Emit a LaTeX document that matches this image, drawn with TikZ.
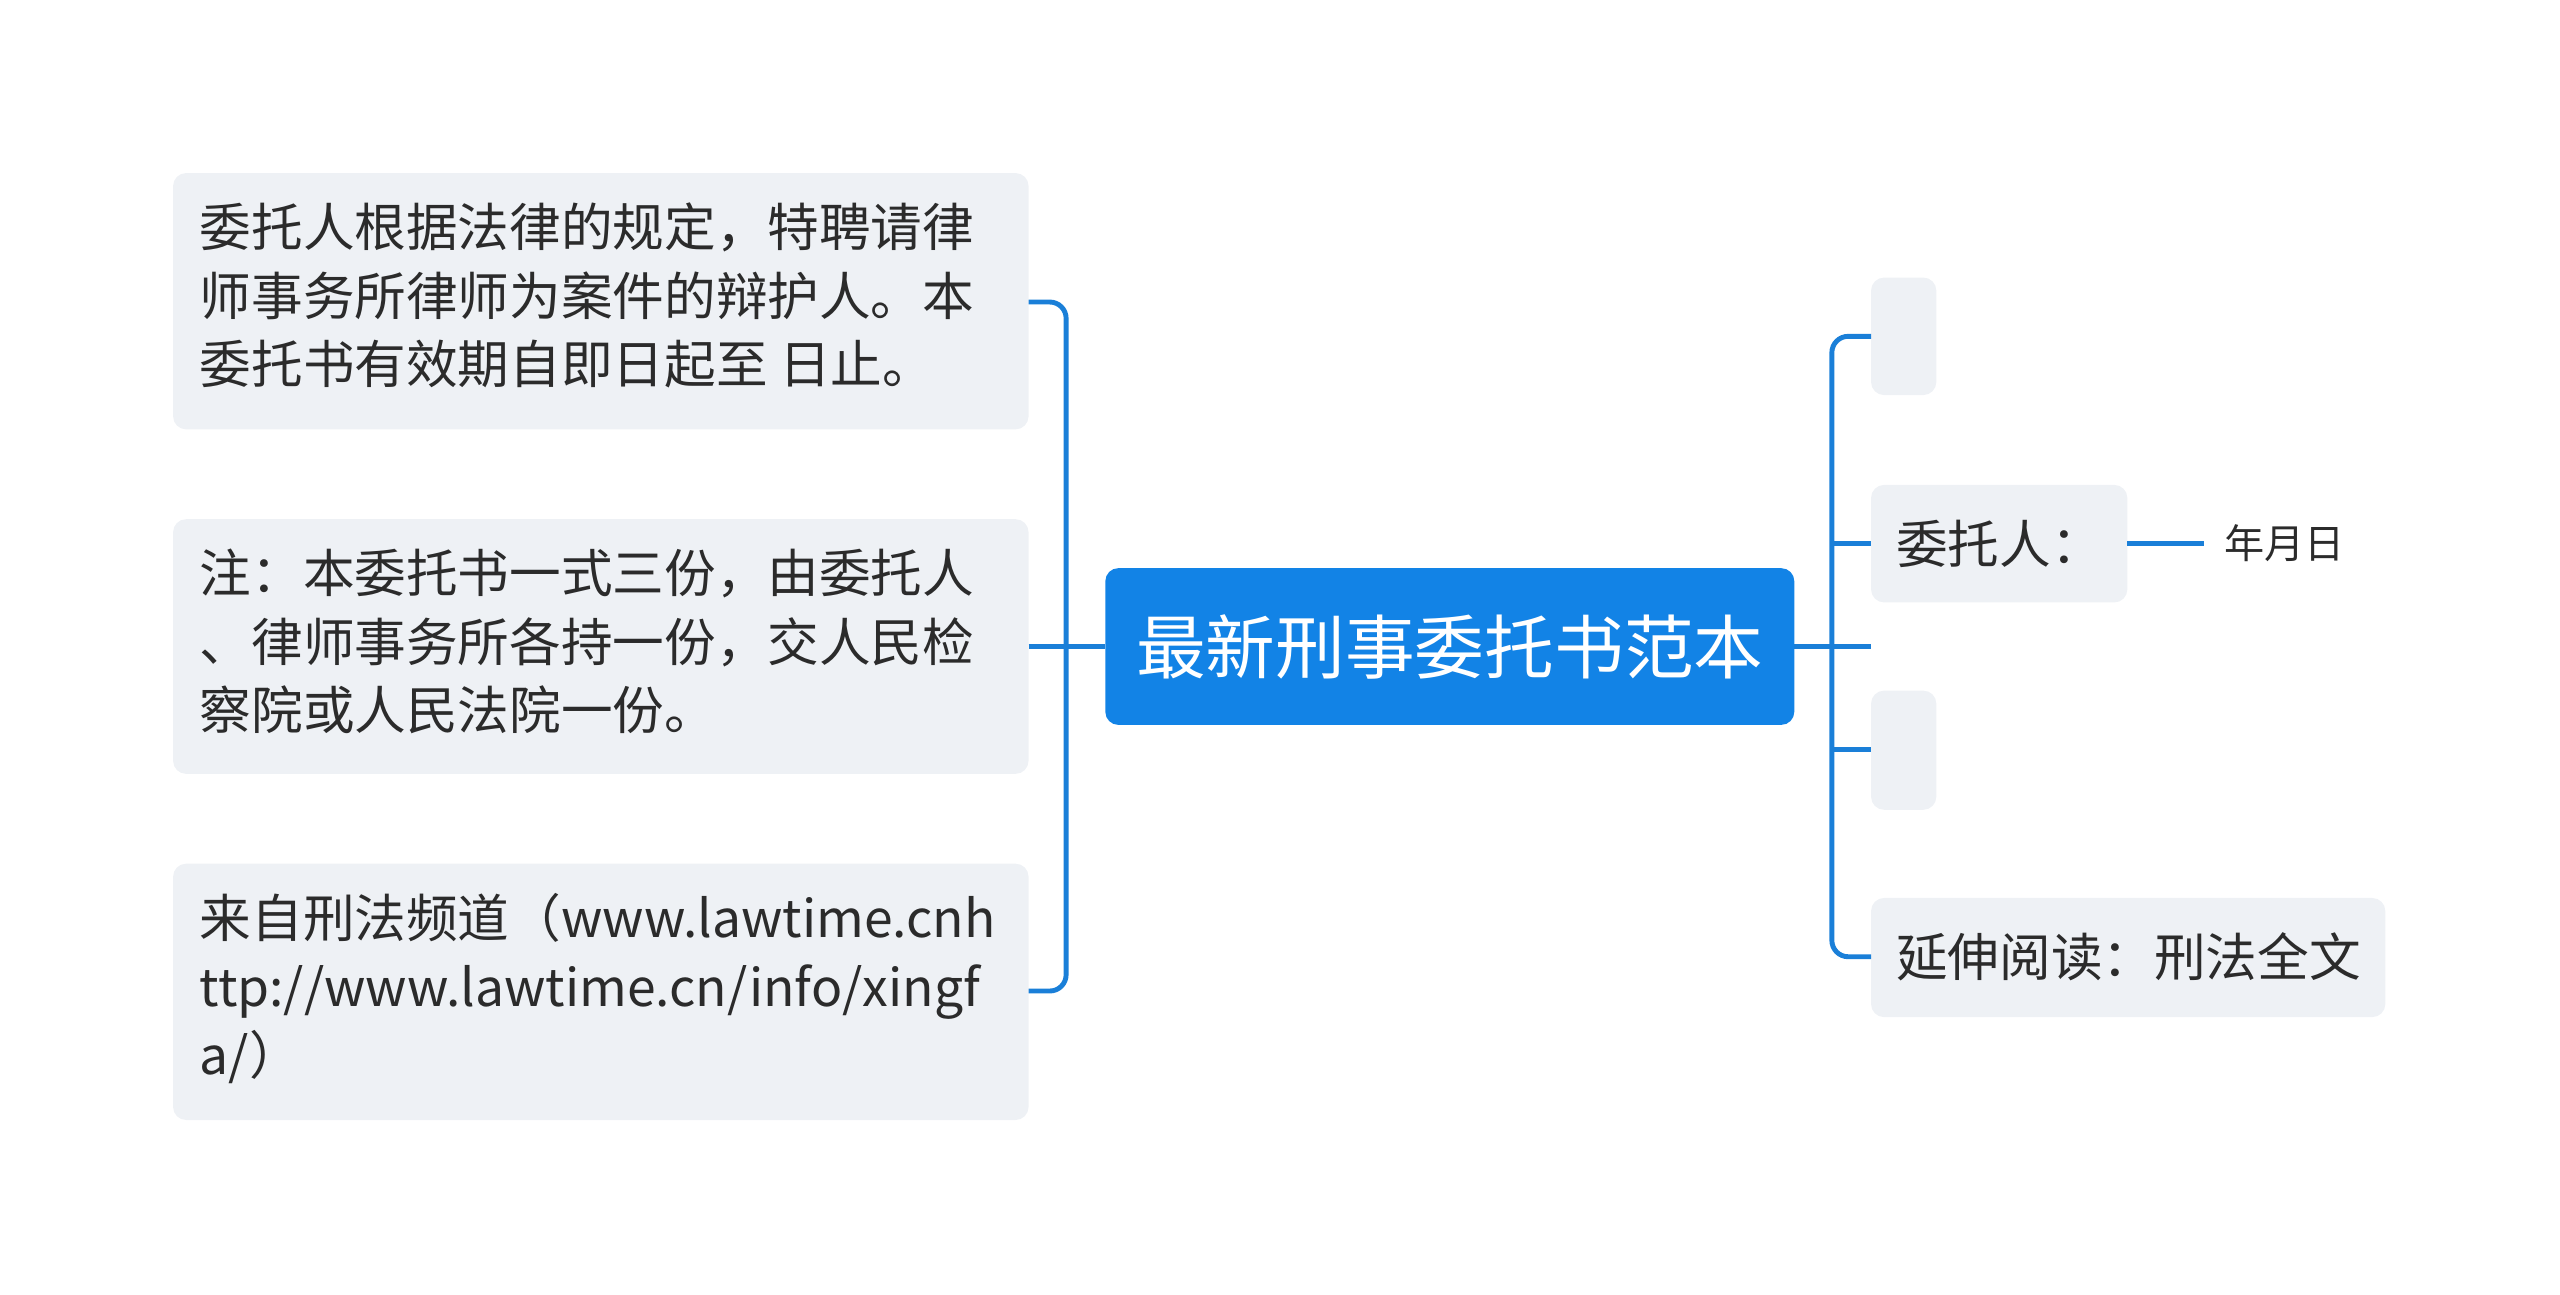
\documentclass[tikz,border=0pt]{standalone}
\usepackage{fontspec}
\setmainfont{Noto Sans CJK SC}
\begin{document}
\begin{tikzpicture}[x=0.02cm,y=-0.02cm,
  leaf/.style={fill=boxgray,rounded corners=0.16cm,draw=none},
  con/.style={draw=lineblue,line width=0.06cm,rounded corners=0.2cm},
  ltxt/.style={anchor=north west,align=left,inner sep=0pt,font=\fontsize{18}{23.9}\selectfont,text=txt}]
\definecolor{boxgray}{HTML}{EEF1F5}
\definecolor{lineblue}{HTML}{1A7FD8}
\definecolor{mainblue}{HTML}{1283E6}
\definecolor{txt}{HTML}{2B2B2B}
\useasboundingbox (0,0) rectangle (1568,793);
% left boxes
\path[leaf] (106,106) rectangle (630,263);
\path[leaf] (106,318) rectangle (630,474);
\path[leaf] (106,529) rectangle (630,686);
\node[ltxt] (l1) at (122,124) {委托人根据法律的规定，特聘请律\\师事务所律师为案件的辩护人。本\\委托书有效期自即日起至 日止。};
\node[ltxt] (l2) at (122,336) {注：本委托书一式三份，由委托人\\、律师事务所各持一份，交人民检\\察院或人民法院一份。};
\node[ltxt] (l3) at (122,547) {来自刑法频道（www.lawtime.cnh\\ttp://www.lawtime.cn/info/xingf\\a/）};
% center
\path[fill=mainblue,rounded corners=0.16cm] (677,348) rectangle (1099,444);
\node[text=white,font=\fontsize{24.3}{28}\selectfont] (c) at (888,396) {最新刑事委托书范本};
% right
\path[leaf] (1146,170) rectangle (1186,242);
\path[leaf] (1146,297) rectangle (1303,369);
\path[leaf] (1146,423) rectangle (1186,496);
\path[leaf] (1146,550) rectangle (1461,623);
\node[anchor=west,inner sep=0pt,text=txt,font=\fontsize{18}{20}\selectfont] (r2) at (1161,333) {委托人：};
\node[anchor=west,inner sep=0pt,text=txt,font=\fontsize{18}{20}\selectfont] (r4) at (1161,586) {延伸阅读：刑法全文};
\node[anchor=west,inner sep=0pt,text=txt,font=\fontsize{14}{16}\selectfont] (d) at (1362,333) {年月日};
% connectors
\coordinate (cl) at (677,396); \coordinate (cr) at (1099,396);
\draw[con] (630,185) -- (653,185) -- (653,607) -- (630,607);
\draw[con] (630,396) -- (cl);
\draw[con] (1146,206) -- (1122,206) -- (1122,586) -- (1146,586);
\draw[con] (cr) -- (1146,396);
\draw[con] (1122,333) -- (1146,333);
\draw[con] (1122,459) -- (1146,459);
\draw[con] (1303,333) -- (1350,333);
\end{tikzpicture}
\end{document}
